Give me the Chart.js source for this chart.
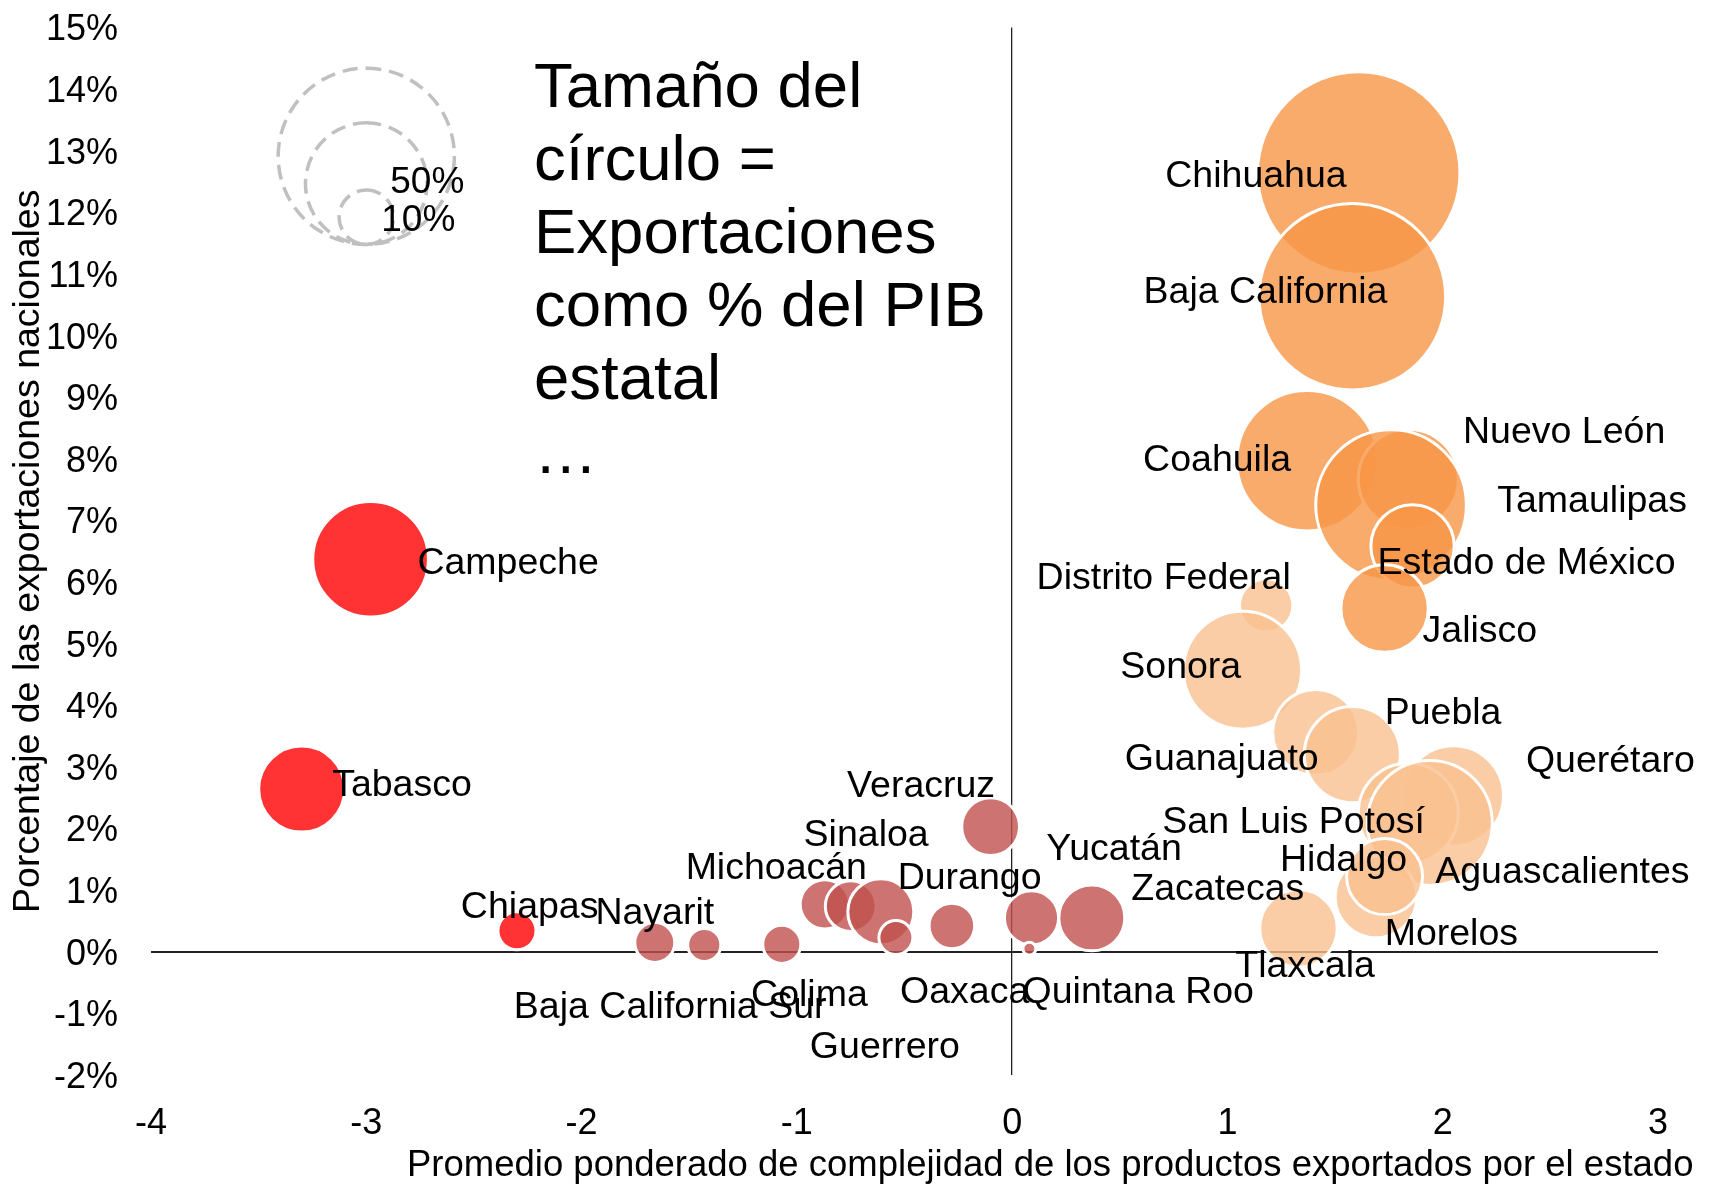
<!DOCTYPE html>
<html>
<head>
<meta charset="utf-8">
<script src="https://cdn.jsdelivr.net/npm/chart.js@4.4.1/dist/chart.umd.min.js"></script>
<style>
html,body{margin:0;padding:0;background:#fff;}
#wrap{width:1727px;height:1185px;position:relative;}
</style>
</head>
<body>
<div id="wrap"><canvas id="c" width="1727" height="1185"></canvas></div>
<script>
// ---------------- DATA ----------------
const states = [
  'Campeche','Tabasco','Chiapas',
  'Veracruz','Michoacán','Sinaloa','Durango','Yucatán','Zacatecas','Oaxaca','Guerrero','Nayarit','Colima','Baja California Sur','Quintana Roo',
  'Chihuahua','Baja California','Coahuila','Nuevo León','Tamaulipas','Estado de México','Jalisco',
  'Distrito Federal','Sonora','Guanajuato','Puebla','Querétaro','San Luis Potosí','Aguascalientes','Morelos','Hidalgo','Tlaxcala'
];
// weighted average complexity of exported products (x)
const complexity = [
  -2.98, -3.30, -2.30,
  -0.10, -0.87, -0.75, -0.61, 0.09, 0.37, -0.28, -0.54, -1.66, -1.07, -1.43, 0.08,
  1.61, 1.58, 1.37, 1.84, 1.76, 1.86, 1.73,
  1.18, 1.07, 1.41, 1.58, 2.05, 1.84, 1.94, 1.69, 1.73, 1.33
];
// share of national exports, % (y)
const exportShare = [
  6.37, 2.64, 0.34,
  2.03, 0.77, 0.74, 0.65, 0.55, 0.55, 0.42, 0.23, 0.15, 0.12, 0.11, 0.05,
  12.64, 10.63, 7.97, 7.67, 7.25, 6.58, 5.57,
  5.62, 4.57, 3.56, 3.20, 2.53, 2.25, 2.09, 0.89, 1.22, 0.38
];
// exports as % of state GDP (bubble size, area-proportional)
const exportsPctGDP = [
  45.2, 25.0, 4.9,
  11.3, 8.2, 8.7, 14.7, 9.9, 14.7, 7.0, 3.9, 5.4, 4.9, 3.7, 0.57,
  138.5, 117.7, 66.8, 33.8, 76.7, 23.5, 25.8,
  9.6, 47.1, 25.0, 31.2, 33.8, 33.8, 52.8, 22.5, 19.5, 20.3
];
// colour group of each state
const groupOf = [
  0,0,0,
  1,1,1,1,1,1,1,1,1,1,1,1,
  2,2,2,2,2,2,2,
  3,3,3,3,3,3,3,3,3,3
];
// label anchors (data units, left/middle of the text)
const labelX = [
  -2.758, -3.154, -2.556,
  -0.762, -1.512, -0.964, -0.527, 0.163, 0.558, -0.516, -0.935, -1.931, -1.208, -2.310, 0.053,
  0.716, 0.615, 0.613, 2.099, 2.258, 1.702, 1.911,
  0.118, 0.507, 0.528, 1.735, 2.391, 0.702, 1.970, 1.735, 1.249, 1.041
];
const labelY = [
  6.34, 2.74, 0.77,
  2.73, 1.39, 1.93, 1.23, 1.70, 1.05, -0.61, -1.50, 0.67, -0.66, -0.86, -0.61,
  12.63, 10.75, 8.02, 8.48, 7.36, 6.34, 5.24,
  6.10, 4.66, 3.16, 3.92, 3.13, 2.14, 1.34, 0.32, 1.52, -0.20
];
const xTicks = { min: -4, max: 3, step: 1 };
const yTicks = { min: -2, max: 15, step: 1 };
const legendSizes = [105, 50, 10];
const legendLabels = ['', '50%', '10%'];
const legendX = -3.0, legendBottom = 11.48;
const noteLines = ['Tamaño del', 'círculo =', 'Exportaciones', 'como % del PIB', 'estatal', '…'];
const xTitle = 'Promedio ponderado de complejidad de los productos exportados por el estado';
const yTitle = 'Porcentaje de las exportaciones nacionales';

// ---------------- STYLE ----------------
const FONT = '"Liberation Sans", Arial, Helvetica, sans-serif';
const K = 8.6; // px per sqrt(%)
const TXT_DY = 3; // nudge for text vertical centring
const groupColors = ['rgba(255,0,0,0.8)', 'rgba(192,80,77,0.8)', 'rgba(247,150,70,0.8)', 'rgba(250,192,144,0.8)'];

const datasets = [0,1,2,3].map(g => ({
  data: states.map((s,i)=>i).filter(i => groupOf[i] === g).map(i => ({
    x: complexity[i], y: exportShare[i], r: K * Math.sqrt(exportsPctGDP[i])
  })),
  backgroundColor: groupColors[g],
  borderColor: '#ffffff',
  borderWidth: 3,
  hoverBorderWidth: 3,
  hoverRadius: 0
}));

const annot = {
  id: 'annot',
  afterDatasetsDraw(chart) {
    const {ctx, scales: {x, y}} = chart;
    ctx.save();
    // state labels
    ctx.font = '37.5px ' + FONT;
    ctx.fillStyle = '#000';
    ctx.textAlign = 'left';
    ctx.textBaseline = 'middle';
    states.forEach((s, i) => {
      ctx.fillText(s, x.getPixelForValue(labelX[i]) - 1, y.getPixelForValue(labelY[i]) + TXT_DY);
    });
    // size legend
    const cx = x.getPixelForValue(legendX);
    const by = y.getPixelForValue(legendBottom);
    ctx.setLineDash([15, 8]);
    ctx.lineWidth = 3.5;
    ctx.strokeStyle = '#c0c0c0';
    legendSizes.forEach(v => {
      const r = K * Math.sqrt(v);
      ctx.beginPath();
      ctx.arc(cx, by - r, r, -Math.PI / 2, Math.PI * 1.5);
      ctx.stroke();
    });
    ctx.setLineDash([]);
    ctx.font = '37px ' + FONT;
    const lblDx = [0, 24, 15], lblDy = [0, -4, 1];
    legendSizes.forEach((v, i) => {
      if (!legendLabels[i]) return;
      const r = K * Math.sqrt(v);
      ctx.fillText(legendLabels[i], cx + lblDx[i], by - r + lblDy[i] + TXT_DY);
    });
    // note text
    ctx.font = '63.5px ' + FONT;
    ctx.textBaseline = 'alphabetic';
    noteLines.forEach((t, i) => ctx.fillText(t, 534, 107 + 73.1 * i));
    // x title
    ctx.font = '36.5px ' + FONT;
    ctx.textBaseline = 'middle';
    ctx.fillText(xTitle, 407, 1163 + TXT_DY);
    ctx.restore();
  }
};

new Chart(document.getElementById('c'), {
  type: 'bubble',
  data: { datasets },
  plugins: [annot],
  options: {
    responsive: false,
    animation: false,
    events: [],
    layout: { autoPadding: false, padding: { top: 27.5, right: 69, bottom: 0, left: 0 } },
    plugins: { legend: { display: false }, tooltip: { enabled: false } },
    scales: {
      x: {
        type: 'linear', min: xTicks.min, max: xTicks.max,
        ticks: { stepSize: xTicks.step, color: '#000', font: { family: FONT, size: 36 }, padding: 27,
                 maxRotation: 0, autoSkip: false, callback: v => String(v) },
        grid: { drawTicks: false, lineWidth: 1.3,
                color: c => (c.tick && c.tick.value === 0) ? '#222' : 'rgba(0,0,0,0)' },
        border: { display: false },
        afterFit: s => { s.height = 110; s.paddingLeft = 0; s.paddingRight = 0; }
      },
      y: {
        type: 'linear', min: yTicks.min, max: yTicks.max,
        ticks: { stepSize: yTicks.step, color: '#000', font: { family: FONT, size: 36 }, padding: 33,
                 labelOffset: TXT_DY, autoSkip: false, callback: v => v + '%' },
        grid: { drawTicks: false, lineWidth: 2,
                color: c => (c.tick && c.tick.value === 0) ? '#222' : 'rgba(0,0,0,0)' },
        border: { display: false },
        title: { display: true, text: yTitle, color: '#000', font: { family: FONT, size: 37.5 },
                 padding: { top: 6, bottom: 0 } },
        afterFit: s => { s.width = 151; s.paddingTop = 0; s.paddingBottom = 0; }
      }
    }
  }
});
</script>
</body>
</html>
